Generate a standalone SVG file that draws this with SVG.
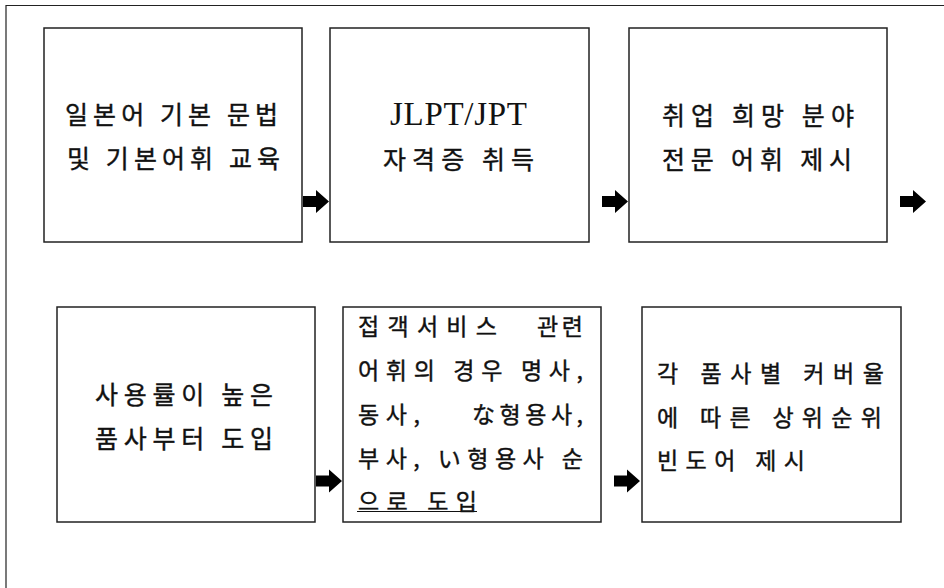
<svg xmlns="http://www.w3.org/2000/svg" xmlns:xlink="http://www.w3.org/1999/xlink" width="944" height="588" viewBox="0 0 944 588">
<style>
.box{fill:#fff;stroke:#222;stroke-width:1.5}
.ko{font-family:"Noto Sans CJK KR","Noto Sans",sans-serif;font-size:25px;fill:#111;dominant-baseline:central;stroke:#111;stroke-width:0.4}
.ko2{font-family:"Noto Sans CJK KR","Noto Sans",sans-serif;font-size:23px;fill:#111;dominant-baseline:central;stroke:#111;stroke-width:0.4}
.lat{font-family:"Liberation Serif","Noto Sans CJK KR",serif;font-size:33px;fill:#111;dominant-baseline:central}
.arrow{fill:#000}
</style>
<defs>
<path id="arr" d="M0,-5.5 H13 V-11.5 L26,0 L13,11.5 V5.5 H0 Z"/>
</defs>
<rect x="0" y="0" width="944" height="588" fill="#fff"/>
<path d="M6,588 V5.5 H944" fill="none" stroke="#222" stroke-width="1.2"/>

<g id="node1">
<rect class="box" x="44" y="28" width="258" height="214"/>
<text class="ko" x="65" y="113" textLength="213" lengthAdjust="spacing">일본어 기본 문법</text>
<text class="ko" x="67" y="157" textLength="213" lengthAdjust="spacing">및 기본어휘 교육</text>
</g>
<g id="node2">
<rect class="box" x="330" y="28" width="259" height="214"/>
<text class="lat" x="390" y="113.5" textLength="137" lengthAdjust="spacing">JLPT/JPT</text>
<text class="ko" x="383" y="158" textLength="151" lengthAdjust="spacing">자격증 취득</text>
</g>
<g id="node3">
<rect class="box" x="629" y="28" width="258" height="214"/>
<text class="ko" x="662" y="114" textLength="192" lengthAdjust="spacing">취업 희망 분야</text>
<text class="ko" x="662" y="158" textLength="190" lengthAdjust="spacing">전문 어휘 제시</text>
</g>
<g id="node4">
<rect class="box" x="57" y="307" width="258" height="215"/>
<text class="ko" x="95" y="393" textLength="178" lengthAdjust="spacing">사용률이 높은</text>
<text class="ko" x="95" y="437" textLength="178" lengthAdjust="spacing">품사부터 도입</text>
</g>
<g id="node5">
<rect class="box" x="343" y="307" width="258" height="215"/>
<text class="ko2" x="358" y="325" textLength="139" lengthAdjust="spacing">접객서비스</text>
<text class="ko2" x="537" y="325" textLength="46" lengthAdjust="spacing">관련</text>
<text class="ko2" x="358" y="369" textLength="225" lengthAdjust="spacing">어휘의 경우 명사,</text>
<text class="ko2" x="358" y="413" textLength="62" lengthAdjust="spacing">동사,</text>
<text class="ko2" x="472" y="413" textLength="111" lengthAdjust="spacing">な형용사,</text>
<text class="ko2" x="358" y="457" textLength="225" lengthAdjust="spacing">부사, い형용사 순</text>
<text class="ko2" x="358" y="500" textLength="119" lengthAdjust="spacing">으로 도입</text>
<line x1="357" y1="511.5" x2="477" y2="511.5" stroke="#111" stroke-width="1.2"/>
</g>
<g id="node6">
<rect class="box" x="642" y="307" width="259" height="215"/>
<text class="ko2" x="657" y="372" textLength="227" lengthAdjust="spacing">각 품사별 커버율</text>
<text class="ko2" x="657" y="416" textLength="225" lengthAdjust="spacing">에 따른 상위순위</text>
<text class="ko2" x="657" y="459" textLength="148" lengthAdjust="spacing">빈도어 제시</text>
</g>

<g id="connectors" class="arrow">
<use xlink:href="#arr" href="#arr" transform="translate(303,201.5)"/>
<use xlink:href="#arr" href="#arr" transform="translate(602,201.5)"/>
<use xlink:href="#arr" href="#arr" transform="translate(900,201.5)"/>
<use xlink:href="#arr" href="#arr" transform="translate(316,481)"/>
<use xlink:href="#arr" href="#arr" transform="translate(614,481)"/>
</g>
</svg>
